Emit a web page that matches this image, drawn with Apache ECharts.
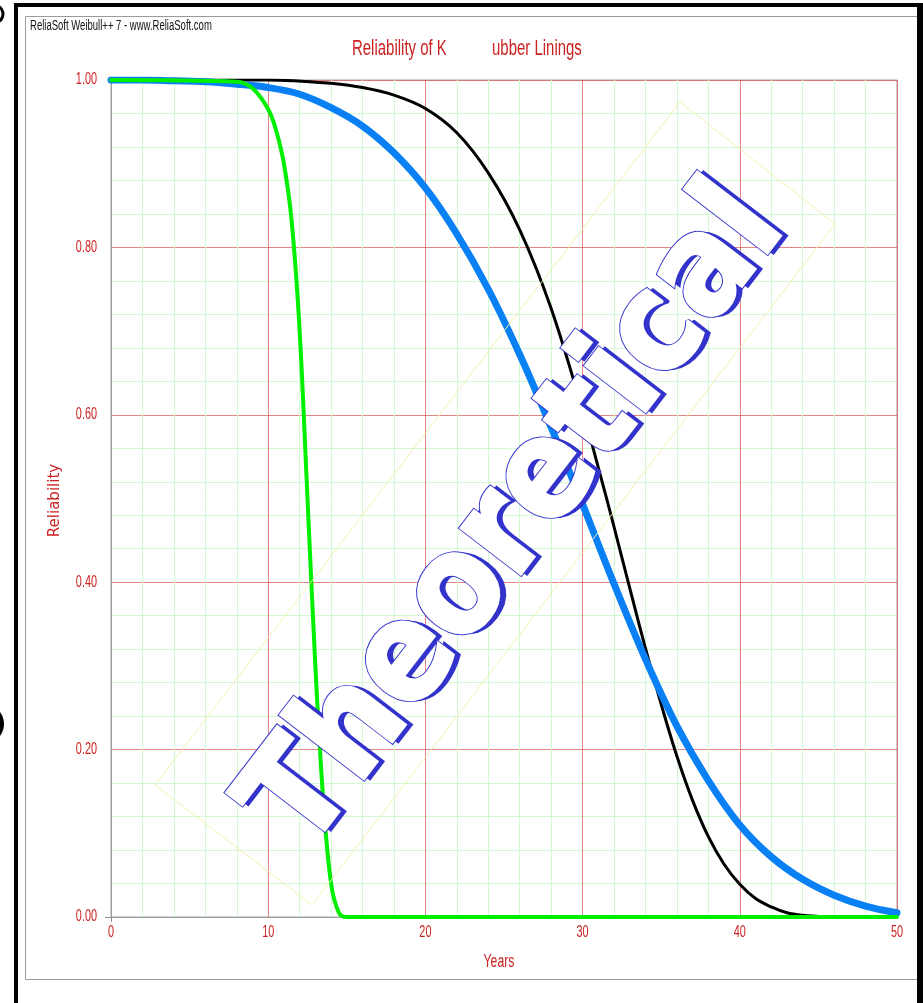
<!DOCTYPE html>
<html>
<head>
<meta charset="utf-8">
<title>Reliability of Rubber Linings</title>
<script src="https://cdn.jsdelivr.net/npm/echarts@6/dist/echarts.min.js"></script>
<style>
  html, body { margin: 0; padding: 0; background: #fff; }
  #chart { width: 923px; height: 1003px; }
</style>
</head>
<body>
<div id="chart"></div>
<script>
// 数据 (从图上读出来的)
const blueYears = [0, 2, 4, 6, 8, 10, 12, 14, 16, 18, 20, 22, 24, 26, 28, 30, 32, 34, 36, 38, 40, 42, 44, 46, 48, 50];
const blueR = [1.0, 1.0, 0.999, 0.998, 0.995, 0.991, 0.983, 0.967, 0.945, 0.913, 0.871, 0.816, 0.75, 0.672, 0.585, 0.493, 0.398, 0.308, 0.228, 0.163, 0.11, 0.072, 0.045, 0.026, 0.013, 0.005];

const blackYears = [0, 10, 14, 16, 18, 20, 22, 24, 26, 28, 30, 31, 32, 33, 34, 35, 36, 37, 38, 39, 40, 41, 42, 43, 44, 45.5];
const blackR = [1.0, 1.0, 0.996, 0.991, 0.982, 0.966, 0.937, 0.889, 0.821, 0.727, 0.605, 0.537, 0.466, 0.393, 0.321, 0.254, 0.192, 0.139, 0.096, 0.063, 0.039, 0.022, 0.012, 0.005, 0.002, 0.0];

const greenYears = [0, 8, 9, 10, 10.5, 11, 11.5, 12, 12.5, 13, 13.5, 14, 14.5, 15, 20, 30, 40, 50];
const greenR = [1.0, 0.998, 0.99, 0.965, 0.94, 0.9, 0.83, 0.7, 0.5, 0.3, 0.14, 0.04, 0.005, 0.0, 0.0, 0.0, 0.0, 0.0];

const xTicks = [0, 10, 20, 30, 40, 50];
const yTicks = [0, 0.2, 0.4, 0.6, 0.8, 1.0];

function pairs(xs, ys) {
    return xs.map(function (x, i) { return [x, ys[i]]; });
}

const red = '#cc2222';
const sans = "'Liberation Sans', Arial, sans-serif";
// 原图的字都是压扁的, 用 scaleX 模拟
const squeeze = 0.68;

let chart = echarts.init(document.getElementById('chart'));

// 水印 Theoretical
const wmX = 518, wmY = 519, wmRot = 52.5 * Math.PI / 180;
const wmFont = "bold 138px 'DejaVu Sans', Verdana, sans-serif";
const wmScale = 0.9;

function squeezedText(txt, x, y, size, color, align, extra) {
    let el = {
        type: 'text', z: 101, x: x, y: y, scaleX: squeeze, scaleY: 1,
        style: { text: txt, fill: color, font: size + 'px ' + sans, align: align, verticalAlign: 'middle' }
    };
    return Object.assign(el, extra || {});
}

function wmText(dx, z, style) {
    return {
        type: 'text', z: z, x: wmX + dx, y: wmY, rotation: wmRot, scaleX: wmScale, scaleY: 1,
        style: Object.assign({ text: 'Theoretical', font: wmFont, align: 'center', verticalAlign: 'middle', lineJoin: 'round' }, style)
    };
}

let option = {
    animation: false,
    backgroundColor: '#fff',
    grid: {
        left: 111, top: 80, right: 26, bottom: 86,
        show: true,
        borderColor: '#a0a0a0',
        borderWidth: 1
    },
    xAxis: {
        type: 'value',
        min: 0, max: 50, interval: 10,
        axisLine: { show: true, lineStyle: { color: '#a0a0a0', width: 1 } },
        axisTick: { show: false },
        axisLabel: { show: false },
        splitLine: { show: true, lineStyle: { color: 'rgba(220,80,80,0.7)', width: 1 } },
        minorTick: { show: false, splitNumber: 5 },
        minorSplitLine: { show: true, lineStyle: { color: '#d3f9d3', width: 1 } }
    },
    yAxis: {
        type: 'value',
        min: 0, max: 1, interval: 0.2,
        axisLine: { show: true, lineStyle: { color: '#a0a0a0', width: 1 } },
        axisTick: { show: false },
        axisLabel: { show: false },
        splitLine: { show: true, lineStyle: { color: 'rgba(220,80,80,0.7)', width: 1 } },
        minorTick: { show: false, splitNumber: 5 },
        minorSplitLine: { show: true, lineStyle: { color: '#d3f9d3', width: 1 } }
    },
    series: [
        {
            name: 'black', type: 'line', data: pairs(blackYears, blackR),
            showSymbol: false, smooth: 0.35, z: 3,
            lineStyle: { color: '#000000', width: 3 }
        },
        {
            name: 'blue', type: 'line', data: pairs(blueYears, blueR),
            showSymbol: false, smooth: 0.35, z: 4,
            lineStyle: { color: '#0a80f5', width: 7, cap: 'round' }
        },
        {
            name: 'green', type: 'line', data: pairs(greenYears, greenR),
            showSymbol: false, smooth: 0.35, z: 5,
            lineStyle: { color: '#00ee00', width: 4, cap: 'round' }
        }
    ]
};

chart.setOption(option);

// 刻度标签和轴名 (压扁的字, 用坐标轴换算位置)
let labels = [];
let x0 = chart.convertToPixel({ xAxisIndex: 0 }, 0);
let x50 = chart.convertToPixel({ xAxisIndex: 0 }, 50);
let y0 = chart.convertToPixel({ yAxisIndex: 0 }, 0);
let y1 = chart.convertToPixel({ yAxisIndex: 0 }, 1);
for (let i = 0; i < xTicks.length; i++) {
    let px = chart.convertToPixel({ xAxisIndex: 0 }, xTicks[i]);
    labels.push(squeezedText(String(xTicks[i]), px, y0 + 16, 16, red, 'center'));
}
for (let i = 0; i < yTicks.length; i++) {
    let py = chart.convertToPixel({ yAxisIndex: 0 }, yTicks[i]);
    labels.push(squeezedText(yTicks[i].toFixed(2), x0 - 14, py, 16, red, 'right'));
}
labels.push(squeezedText('Years', (x0 + x50) / 2 - 5, y0 + 45, 18, red, 'center'));
labels.push({
    type: 'text', z: 101, x: 55, y: (y0 + y1) / 2 + 2, rotation: Math.PI / 2,
    style: { text: 'Reliability', fill: red, font: "15px 'DejaVu Sans', sans-serif", align: 'center', verticalAlign: 'middle' }
});
// 0 点那里轴线伸出一点
labels.push({ type: 'line', z: 50, shape: { x1: x0 - 6, y1: y0 + 0.5, x2: x0, y2: y0 + 0.5 }, style: { stroke: '#909090', lineWidth: 1 } });
labels.push({ type: 'line', z: 50, shape: { x1: x0 + 0.5, y1: y0, x2: x0 + 0.5, y2: y0 + 5 }, style: { stroke: '#909090', lineWidth: 1 } });

let frame = [
    // 外框
    { type: 'rect', z: 100, shape: { x: 14, y: 3, width: 909, height: 4 }, style: { fill: '#000' } },
    { type: 'rect', z: 100, shape: { x: 14, y: 3, width: 4, height: 1000 }, style: { fill: '#000' } },
    { type: 'rect', z: 100, shape: { x: 917, y: 3, width: 6, height: 1000 }, style: { fill: '#000' } },
    { type: 'rect', z: 99, shape: { x: 25.5, y: 16.5, width: 893, height: 963 }, style: { fill: null, stroke: '#9a9a9a', lineWidth: 1 } },
    // 左边的括号残影
    { type: 'arc', z: 100, shape: { cx: -6, cy: 14, r: 9, startAngle: -1.0, endAngle: 1.0 }, style: { stroke: '#000', lineWidth: 3, fill: null } },
    { type: 'arc', z: 100, shape: { cx: -16, cy: 724, r: 18, startAngle: -0.8, endAngle: 0.8 }, style: { stroke: '#000', lineWidth: 4, fill: null } },
    { type: 'circle', z: 98, shape: { cx: 920, cy: 200, r: 3 }, style: { fill: '#0a80f5' } },
    // 标题
    squeezedText('ReliaSoft Weibull++ 7 - www.ReliaSoft.com', 30, 26, 14, '#111', 'left'),
    squeezedText('Reliability of K', 352, 49, 22, red, 'left'),
    { type: 'rect', z: 102, shape: { x: 446, y: 34, width: 44, height: 30 }, style: { fill: '#fff' } },
    squeezedText('ubber Linings', 492, 49, 22, red, 'left'),
    // 水印框
    {
        type: 'polygon', z: 10,
        shape: { points: [[312, 905], [155, 785], [680, 102], [835, 224]] },
        style: { fill: null, stroke: '#f2f2b0', lineWidth: 1 }
    },
    // 水印: 阴影, 蓝色描边, 白色字
    wmText(6, 20, { fill: '#3333cc', stroke: '#3333cc', lineWidth: 3 }),
    wmText(0, 21, { fill: '#3333cc', stroke: '#3333cc', lineWidth: 5 }),
    wmText(0, 22, { fill: '#ffffff', stroke: '#ffffff', lineWidth: 3 })
];

chart.setOption({ graphic: frame.concat(labels) });
</script>
</body>
</html>
